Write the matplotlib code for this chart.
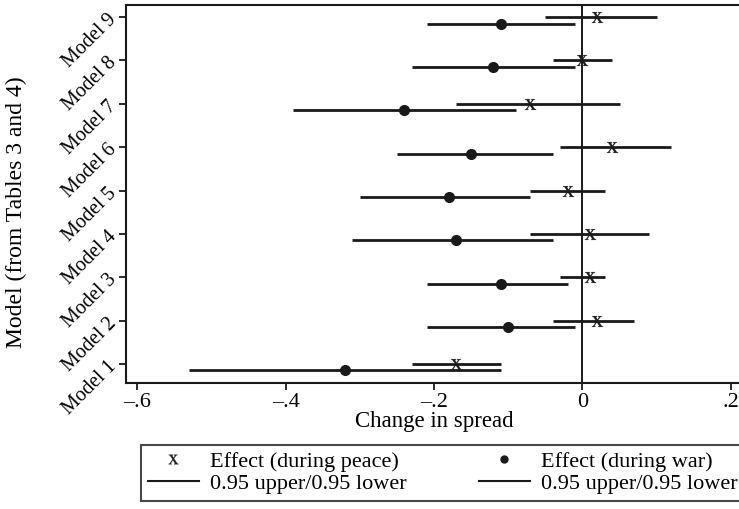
import matplotlib
matplotlib.use("Agg")
import matplotlib.pyplot as plt
from matplotlib.lines import Line2D

# DATA
# -------------------------
models = ["Model 1", "Model 2", "Model 3", "Model 4", "Model 5",
          "Model 6", "Model 7", "Model 8", "Model 9"]

peace_eff = [-0.17, 0.02, 0.01, 0.01, -0.02, 0.04, -0.07, 0.00, 0.02]
peace_lo = [-0.23, -0.04, -0.03, -0.07, -0.07, -0.03, -0.17, -0.04, -0.05]
peace_hi = [-0.11, 0.07, 0.03, 0.09, 0.03, 0.12, 0.05, 0.04, 0.10]

war_eff = [-0.32, -0.10, -0.11, -0.17, -0.18, -0.15, -0.24, -0.12, -0.11]
war_lo = [-0.53, -0.21, -0.21, -0.31, -0.30, -0.25, -0.39, -0.23, -0.21]
war_hi = [-0.11, -0.01, -0.02, -0.04, -0.07, -0.04, -0.09, -0.01, -0.01]

xticks = [-0.6, -0.4, -0.2, 0, 0.2]
xtick_labels = ["\u2013.6", "\u2013.4", "\u2013.2", "0", ".2"]

plt.rcParams["font.family"] = ["Liberation Serif", "DejaVu Serif"]
plt.rcParams["mathtext.fontset"] = "stix"

fig = plt.figure(figsize=(7.39, 5.09), dpi=100)
ax = fig.add_axes([126 / 739, 1 - 383 / 509, (742 - 126) / 739, (383 - 5) / 509])

ink = "#1a1a1a"
xmark = r"$\mathrm{x}$"
ypos = list(range(1, len(models) + 1))
ywar = [y - 0.15 for y in ypos]

# PLOT
# -------------------------
ax.axvline(0, color=ink, lw=1.4, zorder=1)

ax.hlines(ypos, peace_lo, peace_hi, color=ink, lw=2, zorder=2)
ax.plot(peace_eff, ypos, linestyle="none", marker=xmark, ms=8, mew=0.2,
        color=ink, zorder=3)

ax.hlines(ywar, war_lo, war_hi, color=ink, lw=2, zorder=2)
ax.plot(war_eff, ywar, linestyle="none", marker="o", ms=7, color=ink, zorder=3)

ax.set_xlim(-0.615, 0.215)
ax.set_ylim(0.56, 9.28)

ax.set_xticks(xticks)
ax.set_xticklabels(xtick_labels, fontsize=16)
ax.set_yticks(ypos)
ax.set_yticklabels(models, fontsize=14.5, rotation=45, ha="right", va="center",
                   rotation_mode="anchor")
ax.tick_params(direction="out", length=5, width=1.3, color=ink)
ax.tick_params(axis="x", pad=2)
ax.tick_params(axis="y", pad=4)

for side in ["top", "right"]:
    ax.spines[side].set_visible(False)
for side in ["left", "bottom"]:
    ax.spines[side].set_linewidth(1.5)
    ax.spines[side].set_color(ink)
ax.plot([0, 1], [1, 1], transform=ax.transAxes, color=ink, lw=1.5, clip_on=False)

fig.text(434 / 739, 1 - 421 / 509, "Change in spread", fontsize=16.5,
         ha="center", va="center")
fig.text(16 / 739, 1 - 212 / 509, "Model (from Tables 3 and 4)", fontsize=17,
         rotation=90, ha="center", va="center")

# LEGEND
# -------------------------
h_peace = Line2D([], [], linestyle="none", marker=xmark, ms=7, mew=0.2, color=ink)
h_war = Line2D([], [], linestyle="none", marker="o", ms=5, color=ink)
h_line = Line2D([], [], color=ink, lw=1.5)

leg = fig.legend([h_peace, h_line, h_war, h_line],
                 ["Effect (during peace)", "0.95 upper/0.95 lower",
                  "Effect (during war)", "0.95 upper/0.95 lower"],
                 ncol=2, loc="upper left", bbox_to_anchor=(141 / 739, 1 - 445 / 509),
                 fontsize=16, frameon=True, fancybox=False, handlelength=2.3,
                 handletextpad=0.5, columnspacing=3.25, labelspacing=0.05,
                 borderpad=0.3, borderaxespad=0)
leg.get_frame().set_edgecolor(ink)
leg.get_frame().set_linewidth(1.5)

fig.savefig("out.png", dpi=100)
